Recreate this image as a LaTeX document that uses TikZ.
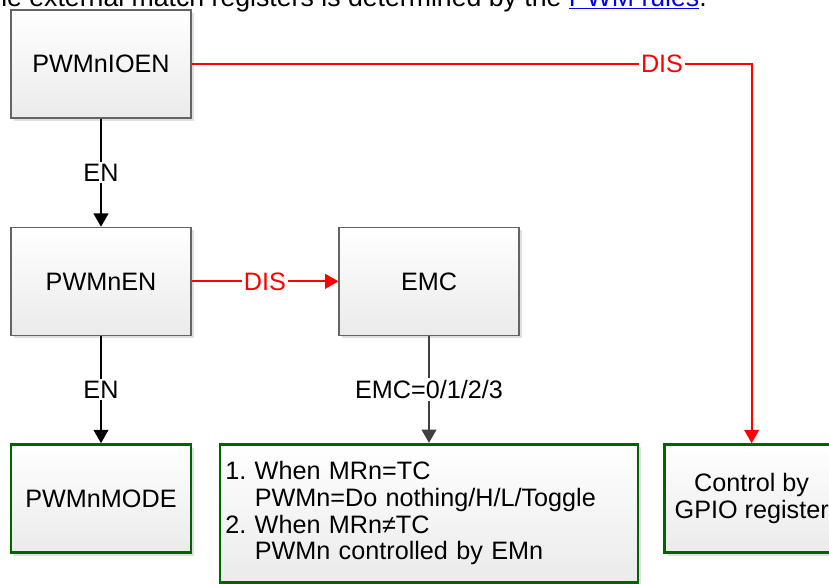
\documentclass[tikz,border=0pt]{standalone}
\usepackage{fontspec}
\setmainfont{Liberation Sans}
\usepackage{tikz}
\usetikzlibrary{arrows.meta, shadows}
\definecolor{boxgray}{RGB}{100,100,100}
\definecolor{okgreen}{RGB}{0,100,0}
\definecolor{emcgray}{RGB}{64,64,64}
\definecolor{linkblue}{RGB}{0,0,238}
\tikzstyle{arrow} = [line width=1.5pt,-{Triangle[length=10pt,width=11pt]}]
\tikzstyle{reg} = [rectangle, draw=boxgray, line width=0.8pt, top color=white, bottom color=black!8, minimum width=135pt, minimum height=81pt, drop shadow={shadow xshift=2.2pt, shadow yshift=-2.2pt, fill=black!12, opacity=1}]
\tikzstyle{res} = [reg, draw=okgreen, line width=2.2pt]
\tikzstyle{lbl} = [fill=white, inner sep=1.5pt]

\begin{document}
\begin{tikzpicture}[x=0.75pt, y=-0.75pt, node distance=163pt, font=\fontsize{18.9}{20}\selectfont]
		\path [use as bounding box, clip] (0,0) rectangle (829,583);
		\node (note) [anchor=base east, inner sep=0pt, font=\fontsize{20}{22}\selectfont] at (707,6) {the external match registers is determined by the \textcolor{linkblue}{\underline{PWM rules}}.};
		\node (ioen) [reg] at (101,64) {PWMnIOEN};
		\node (en) [reg, below of=ioen] {PWMnEN};
		\draw [arrow] (ioen) -- node [lbl] {EN} (en);
		\node (emc) [reg, right of=en, xshift=83pt] {EMC};
		\draw [arrow, red] (en) -- node [lbl, text=red] {DIS} (emc);
		\node (mode) [res, below of=en] {PWMnMODE};
		\draw [arrow] (en) -- node [lbl] {EN} (mode);
		\node (emcbox) [res, below of=emc, yshift=-11pt, minimum height=103.5pt, inner xsep=4pt, text width=305.5pt, align=left, font=\fontsize{18.9}{20}\selectfont] {1.\ When MRn=TC\\\phantom{1.\ }PWMn=Do nothing/H/L/Toggle\\2.\ When MRn≠TC\\\phantom{1.\ }PWMn controlled by EMn};
		\draw [arrow, emcgray] (emc.south) -- node [lbl, text=black] {EMC=0/1/2/3} (emc.south |- emcbox.north);
		\node (gpio) [res, below of=emc, xshift=242pt, minimum width=130.5pt, align=center] {Control by\\GPIO register};
		\draw [arrow, red] (ioen) -| node [lbl, pos=0.42, text=red] {DIS} (gpio);
\end{tikzpicture}
\end{document}
